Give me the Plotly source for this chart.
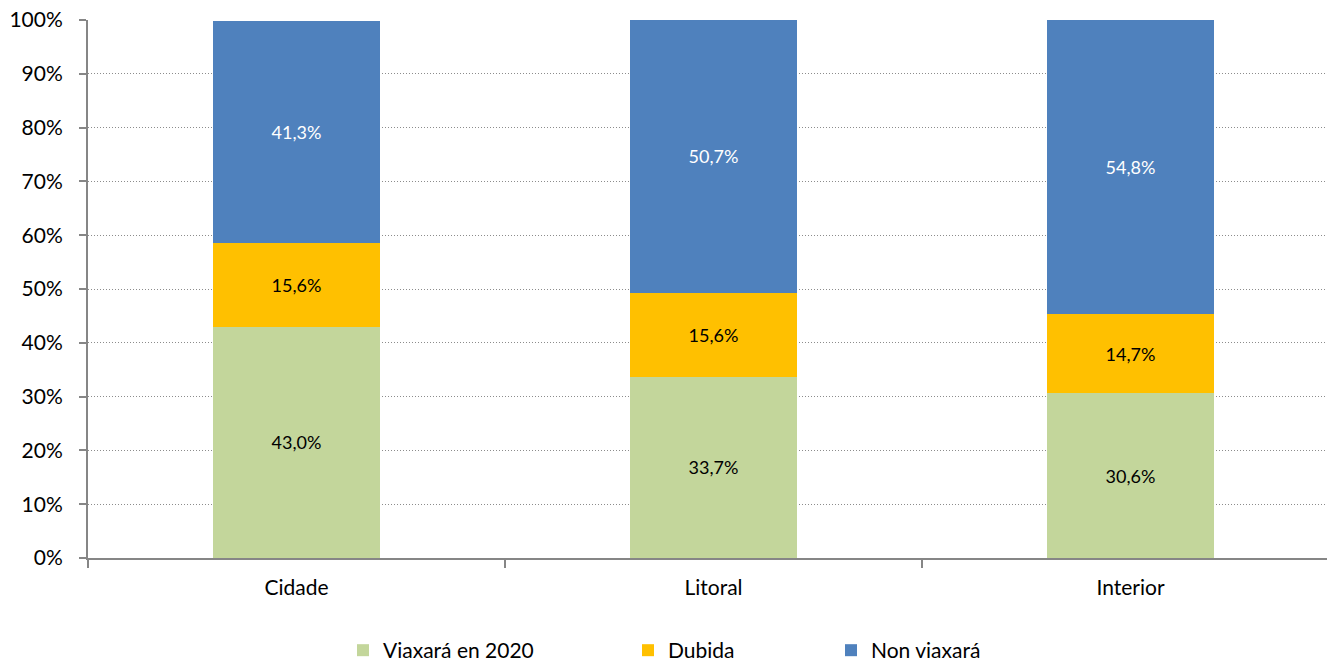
import plotly.graph_objects as go

categories = ["Cidade", "Litoral", "Interior"]
viaxara = [43.0, 33.7, 30.6]
dubida = [15.6, 15.6, 14.7]
non_viaxara = [41.3, 50.7, 54.8]
y_ticks = [0, 10, 20, 30, 40, 50, 60, 70, 80, 90, 100]
y_tick_labels = [f"{v}%" for v in y_ticks]

FONT = "Lato, Open Sans, sans-serif"

fig = go.Figure()
series = [
    ("Viaxará en 2020", viaxara, "#C3D69B", "black", "legend"),
    ("Dubida", dubida, "#FFC000", "black", "legend2"),
    ("Non viaxará", non_viaxara, "#4F81BD", "white", "legend3"),
]
for name, vals, color, tcolor, leg in series:
    fig.add_trace(go.Bar(
        x=categories, y=vals, name=name,
        marker=dict(color=color, line=dict(width=0)),
        width=0.4,
        texttemplate="%{y:.1f}%",
        textposition="inside",
        insidetextanchor="middle",
        textangle=0,
        textfont=dict(family=FONT, size=18, color=tcolor),
        legend=leg,
        hoverinfo="skip",
    ))

leg_common = dict(orientation="h", yanchor="middle", y=-0.172, xanchor="left",
                  font=dict(family=FONT, size=21, color="black"),
                  bgcolor="rgba(0,0,0,0)", itemwidth=30, traceorder="normal")

fig.update_layout(
    barmode="stack",
    width=1327, height=664,
    margin=dict(l=88, r=0, t=20, b=106, autoexpand=False),
    plot_bgcolor="white", paper_bgcolor="white",
    separators=",.",
    showlegend=True,
    hovermode=False,
    legend=dict(leg_common, x=(343 - 88) / 1239),
    legend2=dict(leg_common, x=(628 - 88) / 1239),
    legend3=dict(leg_common, x=(831 - 88) / 1239),
    xaxis=dict(
        range=[-0.5, -0.5 + 1239 / 417],
        automargin=False,
        showline=True, linecolor="#868686", linewidth=2,
        ticks="outside", tickson="boundaries", ticklen=8, tickcolor="#868686",
        tickwidth=1.5, ticklabelstandoff=10,
        showgrid=False,
        tickfont=dict(family=FONT, size=21, color="black"),
    ),
    yaxis=dict(
        range=[0, 100],
        automargin=False,
        tickvals=y_ticks, ticktext=y_tick_labels,
        showline=True, linecolor="#868686", linewidth=2,
        ticks="outside", ticklen=7, tickcolor="#868686", tickwidth=1.5,
        ticklabelstandoff=12,
        showgrid=True, gridcolor="#8c8c8c", griddash="1px,2px", gridwidth=1,
        zeroline=False,
        tickfont=dict(family=FONT, size=21, color="black"),
    ),
)

fig.write_html(
    "out.html",
    config={"displayModeBar": False},
    post_script="document.body.style.margin='0';document.body.style.overflow='hidden';",
)
